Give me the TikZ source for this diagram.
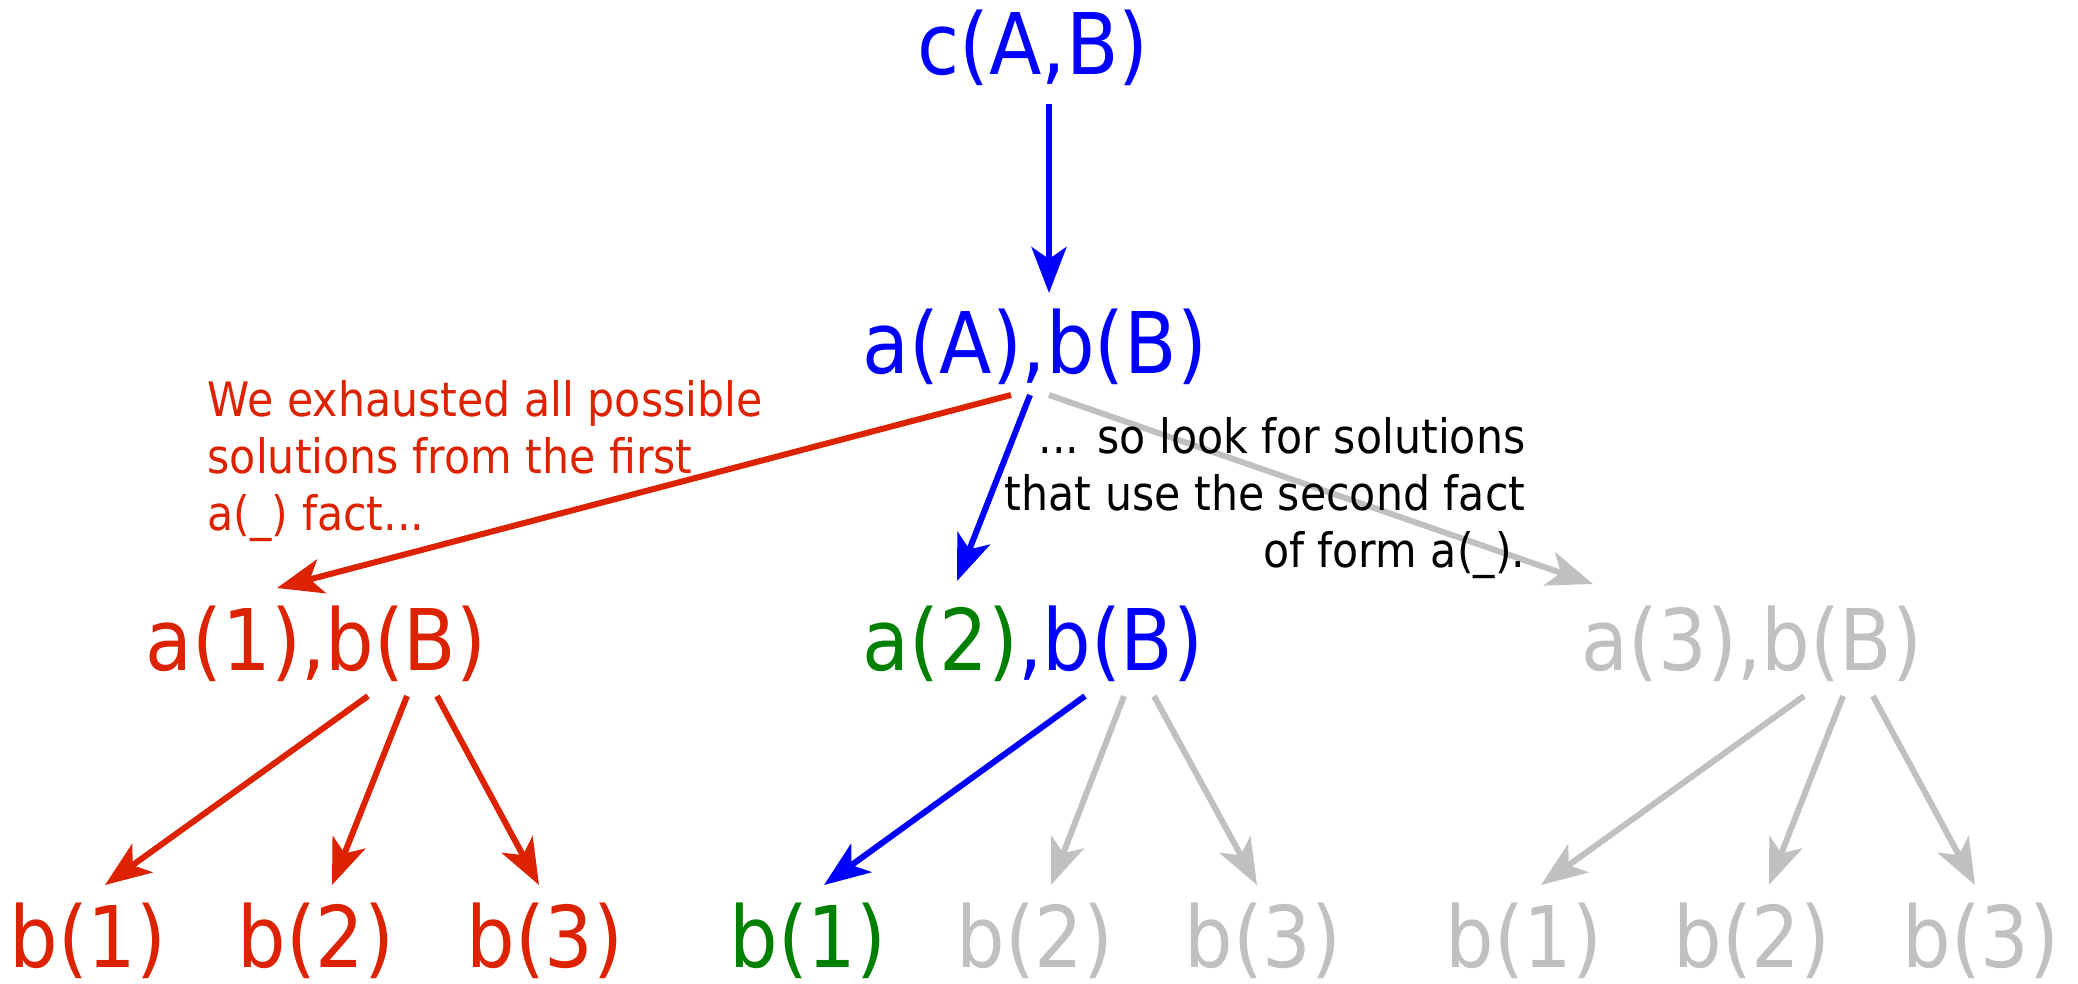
\documentclass[tikz,border=0pt]{standalone}
\usepackage{fontspec}
\setmainfont{DejaVu Sans}[FakeStretch=0.9]
\usetikzlibrary{arrows.meta}

\definecolor{deadred}{RGB}{221,34,0}
\definecolor{liveblue}{RGB}{0,0,255}
\definecolor{hitgreen}{RGB}{0,128,0}
\definecolor{unseen}{RGB}{192,192,192}

\begin{document}
\begin{tikzpicture}[
  % Node styles
  goal/.style={
    inner sep=0pt, outer sep=0pt, anchor=base,
    text height=0.66cm, text depth=0.15cm,
    font=\fontsize{24.2}{29}\selectfont
  },
  note/.style={
    inner sep=0pt,
    font=\fontsize{13.5}{16.2}\selectfont
  },
  % Arrow style
  arr/.style={-{Stealth[length=4.6mm, width=3.5mm, inset=1.2mm]}, line width=0.6mm}
]
\useasboundingbox (0,0) rectangle (20.78,-9.83);

%% ── Query and its body ───────────────────────────────────────
\node[goal, liveblue] (cab) at (10.33,-0.74) {c(A,B)};
\node[goal, liveblue] (ab)  at (10.35,-3.73) {a(A),b(B)};

%% ── One node per a(_) fact ───────────────────────────────────
\node[goal, deadred]  (a1) at (3.16,-6.70)  {a(1),b(B)};
\node[goal]           (a2) at (10.33,-6.70) {\textcolor{hitgreen}{a(2)}\textcolor{liveblue}{,b(B)}};
\node[goal, unseen]   (a3) at (17.52,-6.70) {a(3),b(B)};

%% ── One node per b(_) fact ───────────────────────────────────
\node[goal, deadred]  (b11) at (0.88,-9.67)  {b(1)};
\node[goal, deadred]  (b12) at (3.16,-9.67)  {b(2)};
\node[goal, deadred]  (b13) at (5.45,-9.67)  {b(3)};
\node[goal, hitgreen] (b21) at (8.08,-9.67)  {b(1)};
\node[goal, unseen]   (b22) at (10.35,-9.67) {b(2)};
\node[goal, unseen]   (b23) at (12.63,-9.67) {b(3)};
\node[goal, unseen]   (b31) at (15.24,-9.67) {b(1)};
\node[goal, unseen]   (b32) at (17.52,-9.67) {b(2)};
\node[goal, unseen]   (b33) at (19.81,-9.67) {b(3)};

%% ── Arrows: c(A,B) → body → a(_) choices ─────────────────────
\draw[arr, liveblue] ([shift={(0.16,-0.15)}]cab.south) -- ([shift={(0.14,0.14)}]ab.north);
\draw[arr, deadred]  ([shift={(-0.24,-0.07)}]ab.south) -- ([shift={(-0.39,0.16)}]a1.north);
\draw[arr, unseen]   ([shift={(0.14,-0.07)}]ab.south)  -- ([shift={(-1.59,0.20)}]a3.north);
\draw[arr, liveblue] ([shift={(-0.05,-0.07)}]ab.south) -- ([shift={(-0.76,0.23)}]a2.north);

%% ── Arrows: a(1) branch (exhausted) ──────────────────────────
\draw[arr, deadred] ([shift={(0.52,-0.11)}]a1.south) -- ([shift={(0.17,0.16)}]b11.north);
\draw[arr, deadred] ([shift={(0.91,-0.11)}]a1.south) -- ([shift={(0.16,0.16)}]b12.north);
\draw[arr, deadred] ([shift={(1.21,-0.11)}]a1.south) -- ([shift={(-0.06,0.16)}]b13.north);

%% ── Arrows: a(2) branch (current) ────────────────────────────
\draw[arr, liveblue] ([shift={(0.52,-0.11)}]a2.south) -- ([shift={(0.16,0.16)}]b21.north);
\draw[arr, unseen]   ([shift={(0.91,-0.11)}]a2.south) -- ([shift={(0.16,0.16)}]b22.north);
\draw[arr, unseen]   ([shift={(1.21,-0.11)}]a2.south) -- ([shift={(-0.06,0.16)}]b23.north);

%% ── Arrows: a(3) branch (not tried yet) ──────────────────────
\draw[arr, unseen] ([shift={(0.52,-0.11)}]a3.south) -- ([shift={(0.17,0.16)}]b31.north);
\draw[arr, unseen] ([shift={(0.91,-0.11)}]a3.south) -- ([shift={(0.17,0.16)}]b32.north);
\draw[arr, unseen] ([shift={(1.21,-0.11)}]a3.south) -- ([shift={(-0.06,0.16)}]b33.north);

%% ── Comments ─────────────────────────────────────────────────
\node[note, deadred, anchor=base west, align=left] (exhausted) at (2.07,-5.30)
  {We exhausted all possible\\solutions from the first\\a(\_) fact...};
\node[note, anchor=base east, align=right] (second) at (15.26,-5.67)
  {... so look for solutions\\that use the second fact\\of form a(\_).};

\end{tikzpicture}
\end{document}
